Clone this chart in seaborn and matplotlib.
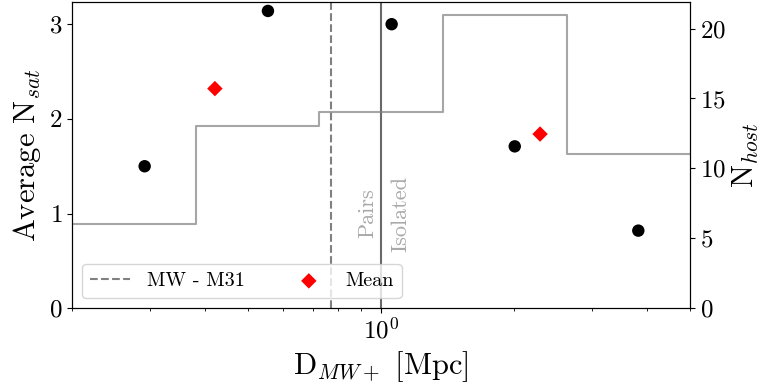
import matplotlib
matplotlib.use("Agg")
import matplotlib.pyplot as plt
import numpy as np
import pandas as pd
import seaborn as sns

# Host-distance bins (Mpc) and the number of hosts in each bin
bin_edges = [0.2, 0.382, 0.725, 1.38, 2.63, 5.0]
n_host = [6, 13, 14, 21, 11]

# Average satellite count per bin, plotted at the mean distance of the bin
bin_dist = [0.292, 0.555, 1.057, 2.007, 3.82]
avg_nsat = [1.50, 3.14, 3.00, 1.71, 0.82]

# Means of the paired (D < 1 Mpc) and isolated groups
mean_dist = [0.421, 2.29]
mean_nsat = [2.32, 1.84]

mw_m31 = 0.77
split = 1.0

plt.rcParams.update({
    "font.family": "serif",
    "font.serif": ["cmr10", "DejaVu Serif"],
    "mathtext.fontset": "cm",
    "axes.formatter.use_mathtext": True,
    "axes.unicode_minus": False,
})

fig, ax = plt.subplots(figsize=(7.61, 3.89), dpi=100)
fig.subplots_adjust(left=0.0946, right=0.9067, bottom=0.2075, top=0.995)
ax.set_xscale("log")

pts = pd.DataFrame({"dist": bin_dist, "nsat": avg_nsat})
means = pd.DataFrame({"dist": mean_dist, "nsat": mean_nsat})

ax.axvline(mw_m31, color="gray", ls="--", lw=1.5, label="MW - M31", zorder=1)
ax.axvline(split, color="dimgray", ls="-", lw=1.5, zorder=1)

sns.scatterplot(data=pts, x="dist", y="nsat", color="black", s=80,
                edgecolor="none", ax=ax, zorder=3)
sns.scatterplot(data=means, x="dist", y="nsat", color="red", marker="D",
                s=62, edgecolor="none", label="Mean", ax=ax, zorder=3)

ax.text(0.932, 1.0, "Pairs", rotation=90, ha="center", va="center",
        color="darkgray", fontsize=16)
ax.text(1.105, 1.0, "Isolated", rotation=90, ha="center", va="center",
        color="darkgray", fontsize=16)

ax.set_xlim(0.2, 5.0)
ax.set_ylim(0, 3.235)
ax.set_xlabel(r"D$_{MW+}$ [Mpc]", fontsize=22)
ax.set_ylabel(r"Average N$_{sat}$", fontsize=22)
ax.tick_params(axis="both", which="major", labelsize=18)
ax.set_yticks([0, 1, 2, 3])

handles, labels = ax.get_legend_handles_labels()
order = [labels.index("MW - M31"), labels.index("Mean")]
ax.legend([handles[i] for i in order], [labels[i] for i in order],
          ncol=2, loc="lower left", fontsize=14.5, columnspacing=2.2)

# Host counts on a second axis
ax2 = ax.twinx()
steps = pd.DataFrame({"edge": bin_edges, "count": n_host + [n_host[-1]]})
sns.lineplot(data=steps, x="edge", y="count", drawstyle="steps-post",
             color="gray", alpha=0.7, lw=1.5, sort=False, ax=ax2)
ax2.set_xscale("log")
ax2.set_xlim(0.2, 5.0)
ax2.set_ylim(0, 21.9)
ax2.set_yticks([0, 5, 10, 15, 20])
ax2.set_ylabel(r"N$_{host}$", fontsize=22)
ax2.tick_params(axis="y", labelsize=18)

fig.savefig("out.png", dpi=100)
